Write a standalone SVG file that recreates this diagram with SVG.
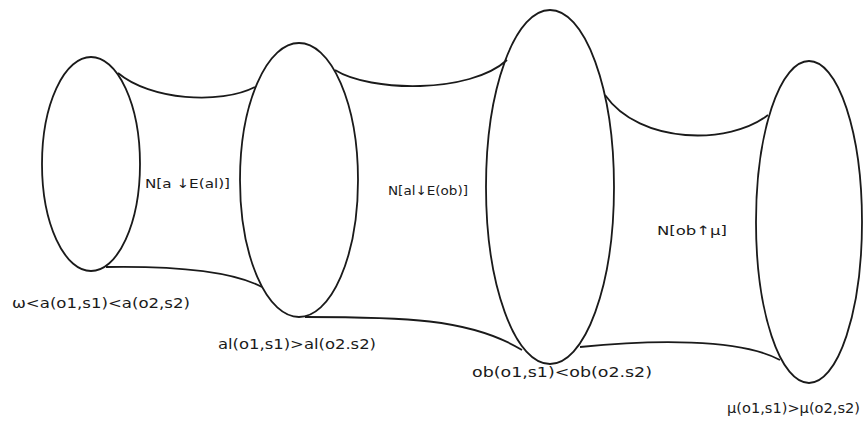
<svg xmlns="http://www.w3.org/2000/svg" width="863" height="423" viewBox="0 0 863 423">
<style>
.e{fill:none;stroke:#1a1a1a;stroke-width:1.8}
.c{fill:none;stroke:#1a1a1a;stroke-width:1.8}
text{font-family:"DejaVu Sans","Liberation Sans",sans-serif;fill:#1a1a1a}
.lbl{font-size:14px}
.rl{font-size:13px}
</style>
<rect width="863" height="423" fill="#ffffff"/>
<g id="connectors">
<path class="c" d="M118,73 C150,100 220,105 255,87"/>
<path class="c" d="M106,267 C170,266 230,270 262,287"/>
<path class="c" d="M335,70 C370,92 470,94 507,60"/>
<path class="c" d="M305,317 C400,317 470,318 522,350"/>
<path class="c" d="M605,95 C640,145 730,145 768,115"/>
<path class="c" d="M580,347 C650,340 740,338 780,360"/>
</g>
<g id="region-labels">
<text class="rl" x="145" y="188" textLength="85" lengthAdjust="spacingAndGlyphs">N[a ↓E(al)]</text>
<text class="rl" x="388" y="195" textLength="80" lengthAdjust="spacingAndGlyphs">N[al↓E(ob)]</text>
<text class="rl" x="657" y="235" textLength="70" lengthAdjust="spacingAndGlyphs">N[ob↑μ]</text>
</g>
<g id="node-omega">
<ellipse class="e" cx="91" cy="164" rx="49" ry="107"/>
<text class="lbl" x="12" y="308" textLength="178" lengthAdjust="spacingAndGlyphs">ω&lt;a(o1,s1)&lt;a(o2,s2)</text>
</g>
<g id="node-al">
<ellipse class="e" cx="299" cy="180" rx="59" ry="137"/>
<text class="lbl" x="218" y="349" textLength="158" lengthAdjust="spacingAndGlyphs">al(o1,s1)&gt;al(o2.s2)</text>
</g>
<g id="node-ob">
<ellipse class="e" cx="550" cy="187" rx="64" ry="177"/>
<text class="lbl" x="472" y="377" textLength="180" lengthAdjust="spacingAndGlyphs">ob(o1,s1)&lt;ob(o2.s2)</text>
</g>
<g id="node-mu">
<ellipse class="e" cx="809" cy="222" rx="53" ry="161"/>
<text class="lbl" x="727" y="413" font-size="12" textLength="133" lengthAdjust="spacingAndGlyphs">μ(o1,s1)&gt;μ(o2,s2)</text>
</g>
</svg>
